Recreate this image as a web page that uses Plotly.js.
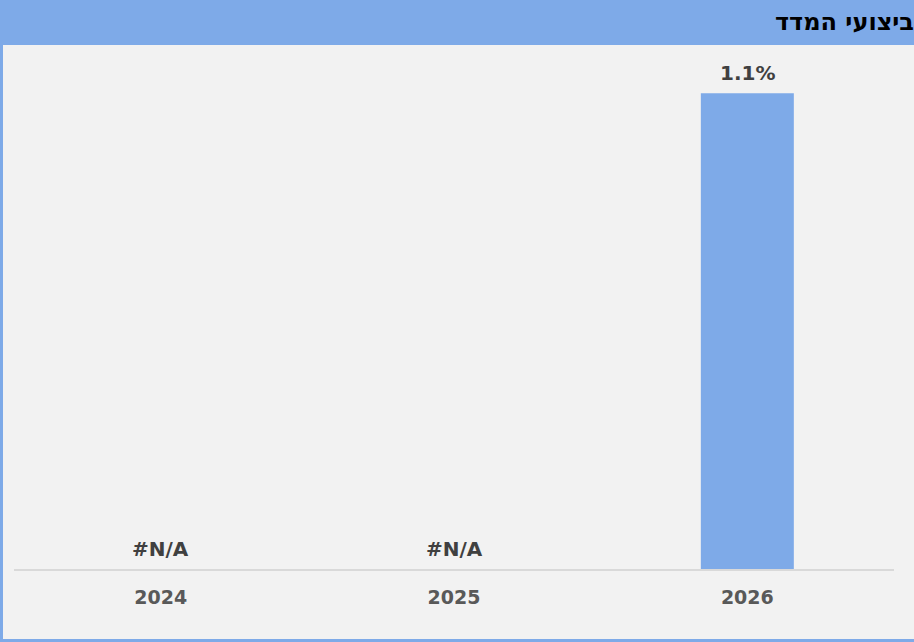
<!DOCTYPE html>
<html>
<head>
<meta charset="utf-8">
<script src="https://cdn.plot.ly/plotly-3.0.1.min.js"></script>
<style>
html,body{margin:0;padding:0;background:#f2f2f2;}
#chart{width:914px;height:642px;}
</style>
</head>
<body>
<div id="chart"></div>
<script>
const categories = ['2024', '2025', '2026'];
const values = [null, null, 1.1];
const chartTitle = 'ביצועי המדד';

const W = 914, H = 642;
const M = {l: 14, r: 20, t: 50, b: 73};
const pw = W - M.l - M.r, ph = H - M.t - M.b;
const px = x => (x - M.l) / pw;
const py = y => (H - M.b - y) / ph;

const blue = '#7eaae8';
const labels = values.map(v => v == null ? '#N/A' : v.toFixed(1) + '%');
const labelY = values.map(v => v == null ? 0 : v);

const traces = [
  {
    type: 'bar', x: categories, y: values,
    marker: {color: blue}, width: 0.317, hoverinfo: 'skip', cliponaxis: false
  },
  {
    type: 'scatter', mode: 'markers', x: categories, y: labelY,
    marker: {opacity: 0, size: 1}, hoverinfo: 'skip'
  }
];

const annotations = categories.map((c, i) => ({
  x: i, y: labelY[i], xref: 'x', yref: 'y', text: labels[i], showarrow: false,
  xanchor: 'center', yanchor: 'middle', yshift: 20.5,
  font: {family: 'DejaVu Sans', size: 20, color: '#404040', weight: 'bold'}
}));

const layout = {
  width: W, height: H,
  margin: M,
  paper_bgcolor: '#f2f2f2', plot_bgcolor: '#f2f2f2',
  showlegend: false,
  font: {family: 'DejaVu Sans'},
  title: {
    text: chartTitle, x: 1, xref: 'container', xanchor: 'right',
    y: 1 - 22 / H, yanchor: 'middle', yref: 'container',
    font: {family: 'DejaVu Sans', size: 24, color: '#000000', weight: 'bold'}
  },
  xaxis: {
    type: 'category', categoryorder: 'array', categoryarray: categories,
    range: [-0.5, categories.length - 0.5],
    showline: true, linecolor: '#d9d9d9', linewidth: 2,
    showgrid: false, zeroline: false, ticks: '', ticklabelstandoff: 10,
    tickfont: {family: 'DejaVu Sans', size: 19, color: '#595959', weight: 'bold'},
    fixedrange: true
  },
  yaxis: {
    range: [0, 1.2], visible: false, showgrid: false, zeroline: false, fixedrange: true
  },
  annotations: annotations,
  shapes: [
    {type: 'rect', xref: 'paper', yref: 'paper', x0: px(0), x1: px(W), y0: py(45), y1: py(0),
     fillcolor: blue, line: {width: 0}, layer: 'below'},
    {type: 'rect', xref: 'paper', yref: 'paper', x0: px(1.5), x1: px(W + 5), y0: py(640.5), y1: py(1.5),
     fillcolor: 'rgba(0,0,0,0)', line: {color: blue, width: 3}, layer: 'above'}
  ]
};

Plotly.newPlot('chart', traces, layout, {displayModeBar: false, staticPlot: true});
</script>
</body>
</html>
